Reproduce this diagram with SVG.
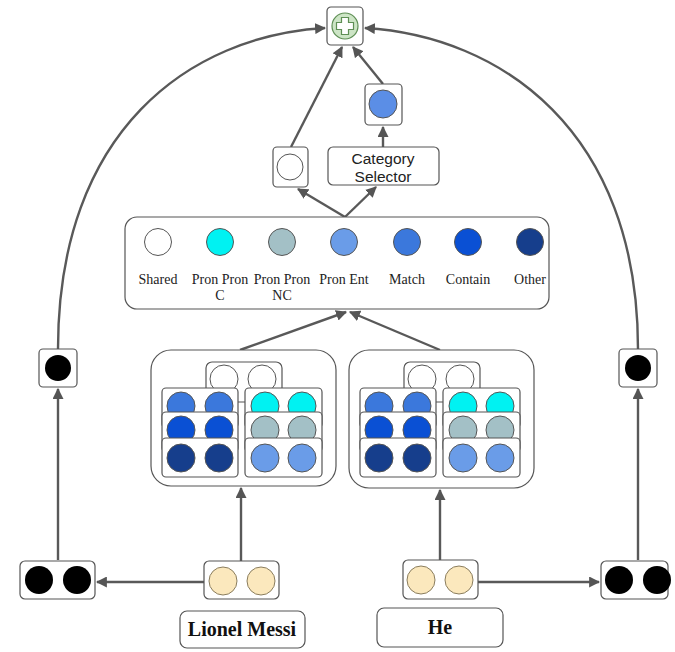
<svg xmlns="http://www.w3.org/2000/svg" width="675" height="652" viewBox="0 0 675 652">
<defs>
<marker id="ah" viewBox="0 0 10 10" refX="9" refY="5" markerWidth="11" markerHeight="11" markerUnits="userSpaceOnUse" orient="auto">
<path d="M0,0 L10,5 L0,10 z" fill="#555"/>
</marker>
<style>
.box{fill:#fff;stroke:#555;stroke-width:1.2}
.conn{fill:none;stroke:#595959;stroke-width:2.4;marker-end:url(#ah)}
.c{stroke:#555;stroke-width:1}
.w{fill:#fff}
.match{fill:#3b78dc}
.contain{fill:#0a50d4}
.other{fill:#163e8c}
.ppc{fill:#00f2f2}
.ppnc{fill:#a3c0c6}
.pent{fill:#6a9ce8}
.blk{fill:#000;stroke:none}
.yel{fill:#fbe8bd;stroke:#8a7d5e;stroke-width:1}
.lbl{font-family:"Liberation Serif","Times New Roman",serif;font-size:14px;fill:#222;text-anchor:middle}
.sans{font-family:"Liberation Sans",Arial,sans-serif;font-size:15.5px;fill:#222;text-anchor:middle}
.word{font-family:"Liberation Serif","Times New Roman",serif;font-size:20px;font-weight:bold;fill:#111;text-anchor:middle}
</style>
</defs>
<rect width="675" height="652" fill="#fff"/>

<g id="connectors">
<path class="conn" d="M58,349 C58,130 190,36 325,28"/>
<path class="conn" d="M638,349 C638,130 500,36 365,28"/>
<path class="conn" d="M291,147 L342,47"/>
<path class="conn" d="M383,84 L353,47"/>
<path class="conn" d="M383,147 L383,127"/>
<path class="conn" d="M345,217 L298,189"/>
<path class="conn" d="M345,217 L376,187"/>
<path class="conn" d="M240,350 L346,312"/>
<path class="conn" d="M440,350 L350,312"/>
<path class="conn" d="M241,561 L241,488"/>
<path class="conn" d="M440,560 L440,490"/>
<path class="conn" d="M58,560 L58,389"/>
<path class="conn" d="M638,560 L638,389"/>
<path class="conn" d="M204,582 L97,582"/>
<path class="conn" d="M478,582 L599,582"/>
</g>

<g id="plus">
<rect class="box" x="327" y="7" width="36" height="38" rx="4"/>
<circle cx="345" cy="26" r="13" fill="#cde5c6" stroke="#5f8f55" stroke-width="1.2"/>
<path d="M341.5,17.5 h7 v5 h5 v7 h-5 v5 h-7 v-5 h-5 v-7 h5 z" fill="#fff" stroke="#5f8f55" stroke-width="1.2"/>
</g>

<g id="selected">
<rect class="box" x="365" y="84" width="37" height="41" rx="4"/>
<circle class="c" cx="383" cy="104" r="14" style="fill:#5b8ee6"/>
</g>

<g id="shared-out">
<rect class="box" x="273" y="147" width="35" height="40" rx="4"/>
<circle class="c w" cx="290" cy="167" r="13"/>
</g>

<g id="category-selector">
<rect class="box" x="328" y="147" width="111" height="38" rx="5"/>
<text class="sans" x="383" y="164">Category</text>
<text class="sans" x="383" y="182">Selector</text>
</g>

<g id="legend">
<rect class="box" x="125" y="217" width="424" height="92" rx="12"/>
<circle class="c w" cx="158" cy="242" r="13.5"/>
<circle class="c ppc" cx="220" cy="242" r="13.5"/>
<circle class="c ppnc" cx="282" cy="242" r="13.5"/>
<circle class="c pent" cx="344" cy="242" r="13.5"/>
<circle class="c match" cx="407" cy="242" r="13.5"/>
<circle class="c contain" cx="468" cy="242" r="13.5"/>
<circle class="c other" cx="530" cy="242" r="13.5"/>
<text class="lbl" x="158" y="284">Shared</text>
<text class="lbl" x="220" y="284">Pron Pron</text>
<text class="lbl" x="220" y="300">C</text>
<text class="lbl" x="282" y="284">Pron Pron</text>
<text class="lbl" x="282" y="300">NC</text>
<text class="lbl" x="344" y="284">Pron Ent</text>
<text class="lbl" x="407" y="284">Match</text>
<text class="lbl" x="468" y="284">Contain</text>
<text class="lbl" x="530" y="284">Other</text>
</g>

<g id="group-left">
<rect class="box" x="151" y="350" width="185" height="136" rx="20"/>
<rect class="box" x="206" y="362" width="76" height="40" rx="6"/>
<circle class="c w" cx="224" cy="379" r="14"/>
<circle class="c w" cx="262" cy="379" r="14"/>
<rect class="box" x="162" y="388" width="76" height="40" rx="4"/>
<circle class="c match" cx="181" cy="406" r="14"/>
<circle class="c match" cx="219" cy="406" r="14"/>
<rect class="box" x="162" y="412" width="76" height="40" rx="4"/>
<circle class="c contain" cx="181" cy="430" r="14"/>
<circle class="c contain" cx="219" cy="430" r="14"/>
<rect class="box" x="162" y="438" width="76" height="39" rx="4"/>
<circle class="c other" cx="181" cy="458" r="14"/>
<circle class="c other" cx="219" cy="458" r="14"/>
<rect class="box" x="245" y="388" width="77" height="40" rx="4"/>
<circle class="c ppc" cx="265" cy="406" r="14"/>
<circle class="c ppc" cx="302" cy="406" r="14"/>
<rect class="box" x="245" y="412" width="77" height="40" rx="4"/>
<circle class="c ppnc" cx="265" cy="430" r="14"/>
<circle class="c ppnc" cx="302" cy="430" r="14"/>
<rect class="box" x="245" y="438" width="77" height="39" rx="4"/>
<circle class="c pent" cx="265" cy="458" r="14"/>
<circle class="c pent" cx="302" cy="458" r="14"/>
</g>

<g id="group-right" transform="translate(198,0)">
<rect class="box" x="151" y="350" width="185" height="138" rx="20"/>
<rect class="box" x="206" y="362" width="76" height="40" rx="6"/>
<circle class="c w" cx="224" cy="379" r="14"/>
<circle class="c w" cx="262" cy="379" r="14"/>
<rect class="box" x="162" y="388" width="76" height="40" rx="4"/>
<circle class="c match" cx="181" cy="406" r="14"/>
<circle class="c match" cx="219" cy="406" r="14"/>
<rect class="box" x="162" y="412" width="76" height="40" rx="4"/>
<circle class="c contain" cx="181" cy="430" r="14"/>
<circle class="c contain" cx="219" cy="430" r="14"/>
<rect class="box" x="162" y="438" width="76" height="39" rx="4"/>
<circle class="c other" cx="181" cy="458" r="14"/>
<circle class="c other" cx="219" cy="458" r="14"/>
<rect class="box" x="245" y="388" width="77" height="40" rx="4"/>
<circle class="c ppc" cx="265" cy="406" r="14"/>
<circle class="c ppc" cx="302" cy="406" r="14"/>
<rect class="box" x="245" y="412" width="77" height="40" rx="4"/>
<circle class="c ppnc" cx="265" cy="430" r="14"/>
<circle class="c ppnc" cx="302" cy="430" r="14"/>
<rect class="box" x="245" y="438" width="77" height="39" rx="4"/>
<circle class="c pent" cx="265" cy="458" r="14"/>
<circle class="c pent" cx="302" cy="458" r="14"/>
</g>

<g id="left-single">
<rect class="box" x="39" y="349" width="38" height="38" rx="4"/>
<circle class="blk" cx="58" cy="368" r="13"/>
</g>
<g id="right-single">
<rect class="box" x="619" y="349" width="38" height="38" rx="4"/>
<circle class="blk" cx="638" cy="368" r="13"/>
</g>

<g id="left-pair">
<rect class="box" x="20" y="561" width="75" height="38" rx="5"/>
<circle class="blk" cx="39" cy="580" r="14"/>
<circle class="blk" cx="77" cy="580" r="14"/>
</g>
<g id="right-pair">
<rect class="box" x="601" y="561" width="67" height="38" rx="5"/>
<circle class="blk" cx="619" cy="580" r="14"/>
<circle class="blk" cx="657" cy="580" r="14"/>
</g>

<g id="emb-messi">
<rect class="box" x="204" y="561" width="75" height="38" rx="5"/>
<circle class="yel" cx="223" cy="581" r="14"/>
<circle class="yel" cx="261" cy="581" r="14"/>
</g>
<g id="emb-he">
<rect class="box" x="403" y="560" width="75" height="39" rx="5"/>
<circle class="yel" cx="421" cy="580" r="14"/>
<circle class="yel" cx="459" cy="580" r="14"/>
</g>

<g id="word-messi">
<rect class="box" x="180" y="611" width="125" height="37" rx="7"/>
<text class="word" x="242" y="636">Lionel Messi</text>
</g>
<g id="word-he">
<rect class="box" x="377" y="608" width="126" height="39" rx="7"/>
<text class="word" x="440" y="634">He</text>
</g>
</svg>
